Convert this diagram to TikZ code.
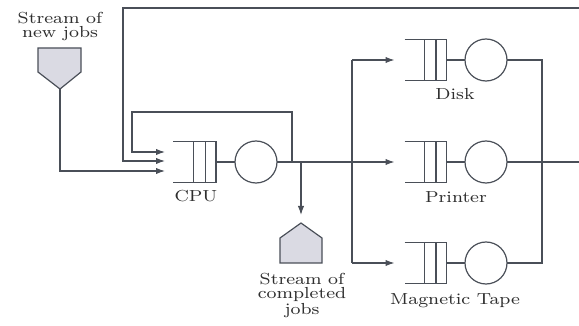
\documentclass[tikz,border=0pt]{standalone}
\usepackage{fontspec}
\setmainfont{Latin Modern Roman}[FakeStretch=1.17]
\usetikzlibrary{arrows.meta,calc}
\definecolor{ln}{HTML}{4A4F58}
\definecolor{pf}{HTML}{DADAE3}
\definecolor{tx}{HTML}{2E2E2E}
\newcommand\qdraw[1]{%
  \draw[line] (#1.north west) -- (#1.north east) -- (#1.south east) -- (#1.south west);
  \draw[line] ($(#1.north west)!0.47!(#1.north east)$) -- ($(#1.south west)!0.47!(#1.south east)$);
  \draw[line] ($(#1.north west)!0.75!(#1.north east)$) -- ($(#1.south west)!0.75!(#1.south east)$);
}
\begin{document}
\begin{tikzpicture}[x=0.5pt,y=-0.5pt,
  line/.style={draw=ln, line width=0.6pt},
  arr/.style={line, -{Latex[length=4.5pt,width=3.2pt]}},
  qbox/.style={minimum width=21pt, minimum height=20.5pt, inner sep=0, outer sep=0},
  srv/.style={circle, draw=ln, line width=0.6pt, minimum size=21pt, inner sep=0, outer sep=0},
  pent/.style={draw=ln, line width=0.6pt, fill=pf},
  lbl/.style={font=\fontsize{8}{7}\selectfont, text=tx, inner sep=0, align=center},
]
\useasboundingbox (0,0) rectangle (579,326);

% CPU
\node[qbox, minimum width=21.5pt] (cpuq) at (194.5,162) {};
\qdraw{cpuq}
\node[srv] (cpu) at (256,162) {};
\node[lbl, anchor=base] (cpulbl) at (196,202) {CPU};

% devices
\node[qbox] (diskq) at (425.5,60) {};
\qdraw{diskq}
\node[srv] (disk) at (486,60) {};
\node[lbl, anchor=base] (disklbl) at (455,100) {Disk};

\node[qbox] (prnq) at (425.5,162) {};
\qdraw{prnq}
\node[srv] (prn) at (486,162) {};
\node[lbl, anchor=base] (prnlbl) at (456,203) {Printer};

\node[qbox] (tapeq) at (425.5,263) {};
\qdraw{tapeq}
\node[srv] (tape) at (486,263) {};
\node[lbl, anchor=base] (tapelbl) at (455,304) {Magnetic Tape};

% sources / sinks
\coordinate (newtip) at (60,89);
\draw[pent] (38,48) -- (81,48) -- (81,72) -- (newtip) -- (38,72) -- cycle;
\node[lbl, anchor=north] (newlbl) at (60,12) {Stream of\\new jobs};

\coordinate (donetop) at (301,223);
\draw[pent] (280,263) -- (280,238) -- (donetop) -- (322,238) -- (322,263) -- cycle;
\node[lbl, anchor=north] (donelbl) at (302,273) {Stream of\\completed\\jobs};

% coordinates
\coordinate (c1) at (165,152);
\coordinate (c2) at (165,161);
\coordinate (c3) at (165,171);
\coordinate (jl) at (292,162);
\coordinate (jc) at (301,162);
\coordinate (split) at (352,162);
\coordinate (dA) at (352,60);
\coordinate (dC) at (352,263);
\coordinate (outR) at (579,8);
\coordinate (outP) at (579,162);
\coordinate (rr) at (542,162);

% connectors
\draw[line] (cpuq.east) -- (cpu.west);
\draw[line] (cpu.east) -- (split);
\draw[arr] (jl) |- (132,112) |- (c1);
\draw[arr] (outR) -| (123,161) -- (c2);
\draw[arr] (newtip) |- (c3);
\draw[arr, shorten >=4pt] (jc) -- (donetop);
\draw[line] (dA) -- (dC);
\draw[arr, shorten >=5pt] (dA) -- (diskq.west);
\draw[arr, shorten >=5pt] (split) -- (prnq.west);
\draw[arr, shorten >=5pt] (dC) -- (tapeq.west);
\draw[line] (diskq.east) -- (disk.west);
\draw[line] (prnq.east) -- (prn.west);
\draw[line] (tapeq.east) -- (tape.west);
\draw[line] (disk.east) -| (rr) |- (tape.east);
\draw[line] (prn.east) -- (outP);
\end{tikzpicture}
\end{document}
